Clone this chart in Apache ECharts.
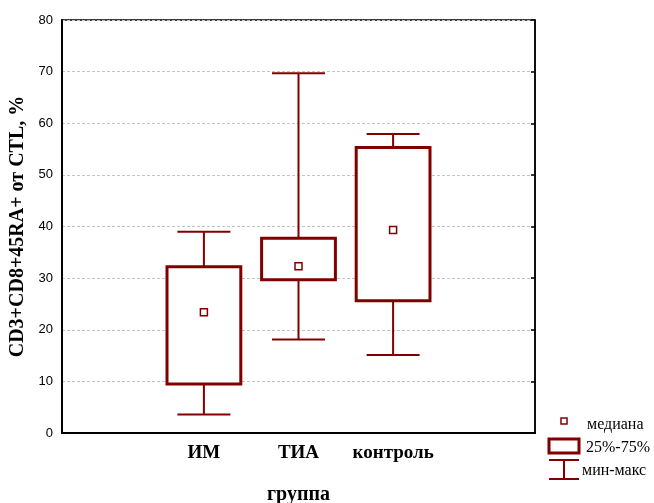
<!DOCTYPE html>
<html>
<head>
<meta charset="utf-8">
<title>CD3+CD8+45RA+</title>
<script src="https://cdn.jsdelivr.net/npm/echarts@6/dist/echarts.min.js"></script>
<style>
	*{ margin:0; padding:0; }
	#chart{ width:654px; height:503px; background:#fff; }
</style>
</head>
<body>
<div id="chart"></div>
<script>
// данные
var categories = ['', 'ИМ', 'ТИА', 'контроль', ''];
var groupIndex = [1, 2, 3];
var minVals = [3.6, 18.1, 15.1];
var q1Vals = [9.5, 29.7, 25.6];
var medianVals = [23.4, 32.3, 39.3];
var q3Vals = [32.2, 37.7, 55.3];
var maxVals = [39.0, 69.7, 57.9];
var yTicks = [0, 10, 20, 30, 40, 50, 60, 70, 80];

var red = '#800000';
var serif = '"Liberation Serif", "DejaVu Serif", serif';
var sans = '"Liberation Sans", Arial, sans-serif';

var boxData = [];
for (var i = 0; i < groupIndex.length; i++) {
	boxData.push([groupIndex[i], minVals[i], q1Vals[i], medianVals[i], q3Vals[i], maxVals[i]]);
}

function renderBox(params, api) {
	var x = api.value(0);
	var pMin = api.coord([x, api.value(1)]);
	var pQ1 = api.coord([x, api.value(2)]);
	var pMed = api.coord([x, api.value(3)]);
	var pQ3 = api.coord([x, api.value(4)]);
	var pMax = api.coord([x, api.value(5)]);
	var band = api.size([1, 0])[0];
	var bw = band * 0.78;
	var cw = band * 0.56;
	var cx = pMin[0];
	var thin = { stroke: red, lineWidth: 2 };
	return {
		type: 'group',
		children: [
			{ type: 'line', shape: { x1: cx, y1: pMax[1], x2: cx, y2: pQ3[1] }, style: thin },
			{ type: 'line', shape: { x1: cx, y1: pQ1[1], x2: cx, y2: pMin[1] }, style: thin },
			{ type: 'line', shape: { x1: cx - cw / 2, y1: pMax[1], x2: cx + cw / 2, y2: pMax[1] }, style: thin },
			{ type: 'line', shape: { x1: cx - cw / 2, y1: pMin[1], x2: cx + cw / 2, y2: pMin[1] }, style: thin },
			{ type: 'rect', shape: { x: cx - bw / 2, y: pQ3[1], width: bw, height: pQ1[1] - pQ3[1] },
				style: { fill: '#fff', stroke: red, lineWidth: 3 } },
			{ type: 'rect', shape: { x: cx - 3.5, y: pMed[1] - 3.5, width: 7, height: 7 },
				style: { fill: '#fff', stroke: red, lineWidth: 1.5 } }
		]
	};
}

var myChart = echarts.init(document.getElementById('chart'));
var option = {
	backgroundColor: '#fff',
	animation: false,
	grid: {
		left: 62, right: 119, top: 20, bottom: 70,
		outerBoundsMode: 'none',
		containLabel: false,
		show: true, borderColor: '#000', borderWidth: 1.5
	},
	xAxis: [
		{
			type: 'category',
			data: categories,
			name: 'группа',
			nameLocation: 'middle',
			nameGap: 52,
			nameTextStyle: { fontFamily: serif, fontWeight: 'bold', fontSize: 20, color: '#000' },
			axisLine: { lineStyle: { color: '#000', width: 2 } },
			axisTick: { inside: true, alignWithLabel: true, length: 4, lineStyle: { color: '#000', width: 1.5 } },
			axisLabel: { fontFamily: serif, fontWeight: 'bold', fontSize: 19, color: '#000', margin: 11, interval: 0 },
			splitLine: { show: false }
		},
		{
			type: 'category',
			data: categories,
			position: 'top',
			axisLine: { lineStyle: { color: '#000', width: 1.5 } },
			axisTick: { inside: true, alignWithLabel: true, length: 4, lineStyle: { color: '#000', width: 1.5 } },
			axisLabel: { show: false }
		}
	],
	yAxis: [
		{
			type: 'value',
			min: 0, max: 80, interval: 10,
			name: 'CD3+CD8+45RA+ от CTL, %',
			nameLocation: 'middle',
			nameGap: 34,
			nameTextStyle: { fontFamily: serif, fontWeight: 'bold', fontSize: 20, color: '#000' },
			axisLine: { show: true, lineStyle: { color: '#000', width: 2 } },
			axisTick: { show: false },
			axisLabel: { fontFamily: sans, fontSize: 13, color: '#000', margin: 9,
				formatter: function (v) { return yTicks.indexOf(v) >= 0 ? String(v) : ''; } },
			splitLine: { show: true, lineStyle: { color: '#c4c4c4', type: [3, 2], width: 1 } }
		},
		{
			type: 'value',
			min: 0, max: 80, interval: 10,
			position: 'right',
			axisLine: { show: true, lineStyle: { color: '#000', width: 1.5 } },
			axisTick: { show: true, inside: true, length: 4, lineStyle: { color: '#000', width: 1.5 } },
			axisLabel: { show: false },
			splitLine: { show: false }
		}
	],
	series: [
		{
			type: 'custom',
			renderItem: renderBox,
			encode: { x: 0, y: [1, 2, 3, 4, 5] },
			data: boxData,
			z: 5
		}
	],
	graphic: [
		{ type: 'rect', shape: { x: 561, y: 418, width: 6, height: 6 }, style: { fill: '#fff', stroke: red, lineWidth: 1.5 } },
		{ type: 'text', x: 587, y: 425, style: { text: 'медиана', font: '16px ' + serif, fill: '#000', verticalAlign: 'middle' } },
		{ type: 'rect', shape: { x: 549, y: 439, width: 30, height: 14 }, style: { fill: '#fff', stroke: red, lineWidth: 3 } },
		{ type: 'text', x: 586, y: 448, style: { text: '25%-75%', font: '16px ' + serif, fill: '#000', verticalAlign: 'middle' } },
		{ type: 'line', shape: { x1: 549, y1: 460, x2: 579, y2: 460 }, style: { stroke: red, lineWidth: 2 } },
		{ type: 'line', shape: { x1: 564, y1: 460, x2: 564, y2: 479 }, style: { stroke: red, lineWidth: 2 } },
		{ type: 'line', shape: { x1: 549, y1: 479, x2: 579, y2: 479 }, style: { stroke: red, lineWidth: 2 } },
		{ type: 'text', x: 582, y: 471, style: { text: 'мин-макс', font: '16px ' + serif, fill: '#000', verticalAlign: 'middle' } }
	]
};
myChart.setOption(option);
</script>
</body>
</html>
